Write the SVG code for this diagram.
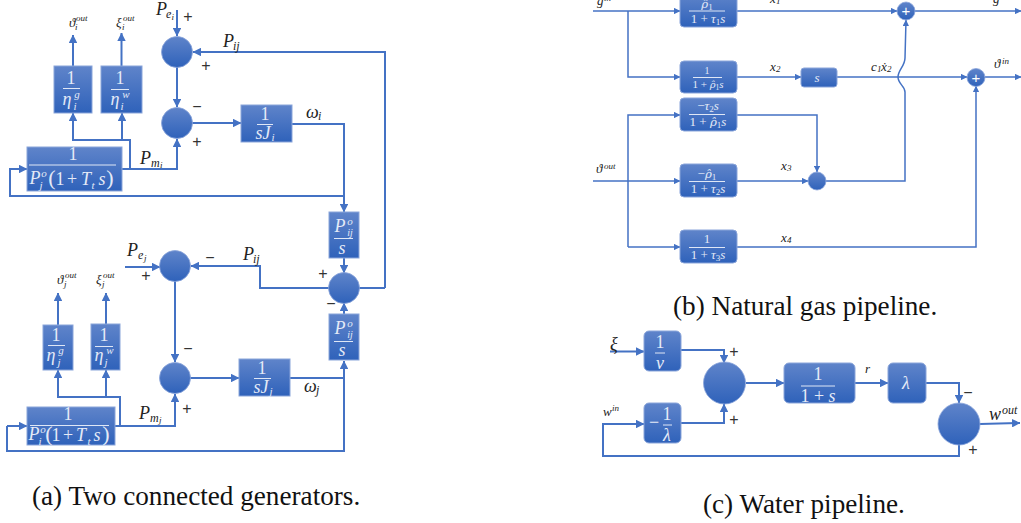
<svg xmlns="http://www.w3.org/2000/svg" width="1021" height="523" viewBox="0 0 1021 523">
<style>
.b{fill:url(#g);stroke:#8aa5da;stroke-width:1}
.c{fill:url(#g);stroke:#8aa5da;stroke-width:.8}
.l{fill:none;stroke:#4472c4;stroke-width:2;stroke-linejoin:miter}
.t{stroke-width:1.5}
.a{marker-end:url(#ah)}
.f{stroke:#dfe7f6;stroke-width:1;fill:none}
text{font-family:"Liberation Serif",serif}
.m{font-style:italic;fill:#222;font-size:18px}
.s{font-style:italic;fill:#222;font-size:12px}
.x{font-style:italic;fill:#222;font-size:13px}
.y{font-style:italic;fill:#222;font-size:9px}
.w{font-style:italic;fill:#e4eaf7;font-size:18px;text-anchor:middle}
.w2{font-style:italic;fill:#e4eaf7;font-size:11px;text-anchor:middle}
.n{font-style:normal}
.u{font-size:70%}
.r{font-family:"DejaVu Serif",serif;font-size:90%}
.p{font-family:"Liberation Sans",sans-serif;fill:#333;font-size:16px;text-anchor:middle}
.cap{fill:#111;font-size:27.2px}
.pw{font-family:"Liberation Sans",sans-serif;fill:#fff;font-size:15px;text-anchor:middle}
</style>
<defs>
<linearGradient id="g" x1="0" y1="0" x2="0" y2="1"><stop offset="0" stop-color="#5f84ca"/><stop offset="1" stop-color="#2f62ba"/></linearGradient>
<marker id="ah" viewBox="0 0 10 10" refX="9.500" refY="5" markerWidth="4.200" markerHeight="4.200" orient="auto"><path d="M0 0L10 5L0 10z" fill="#4472c4"/></marker>
</defs>

<g id="connectors">
<g id="conn-a">
<path class="l a" d="M177 10V36"/><path class="l a" d="M385 288V52H193"/><path class="l a" d="M177 67V107"/>
<path class="l a" d="M192 123H241"/><path class="l a" d="M292 124H344V212"/><path class="l a" d="M344 196H10V169H27"/>
<path class="l a" d="M122 169H177V139"/><path class="l a" d="M130 169V140H73V113"/><path class="l a" d="M122 140V113"/>
<path class="l a" d="M73 66V35"/><path class="l a" d="M121.500 66V33"/>
<path class="l a" d="M344 258V273"/><path class="l a" d="M344 314V303"/><path class="l" d="M359 288H385"/>
<path class="l a" d="M329 288H260V266H191"/><path class="l a" d="M125 267L160 267"/><path class="l a" d="M175 281V362"/>
<path class="l a" d="M190 378H239"/><path class="l" d="M290 378H344"/><path class="l a" d="M7 426H27"/><path class="l a" d="M7 426V451H344V361"/>
<path class="l a" d="M115 426H175V394"/><path class="l a" d="M120 426V397H58V370"/><path class="l a" d="M106 397V370"/>
<path class="l a" d="M58 325V293"/><path class="l a" d="M106 324V293"/>
</g>
<g id="conn-b">
<path class="l t a" d="M593 11H680"/><path class="l t a" d="M628 11V77H680"/><path class="l t a" d="M737 11H897"/><path class="l t a" d="M915 11H1021"/>
<path class="l t a" d="M737 77H801"/><path class="l t a" d="M837 77H967"/><path class="l t a" d="M985 77H1021"/>
<path class="l t a" d="M826 181H905V92C905 86 898 84 898 77C898 70 905 66 905 58L906 20"/>
<path class="l t a" d="M628 247V115H680"/><path class="l t a" d="M628 247H680"/><path class="l t a" d="M593 181H680"/>
<path class="l t a" d="M737 115H817V172"/><path class="l t a" d="M737 181H808"/><path class="l t a" d="M737 247H976V86"/>
</g>
<g id="conn-c">
<path class="l a" d="M610 351.500H644"/><path class="l a" d="M681 350H724V363"/><path class="l a" d="M681 423H724V404"/>
<path class="l a" d="M746 383H784"/><path class="l a" d="M855 383H888"/><path class="l a" d="M926 383H959V403"/>
<path class="l a" d="M980 424L1020 423"/><path class="l a" d="M959 445V456H603V424H644"/>
</g>
</g>

<g id="sum-ei"><circle class="c" cx="177" cy="52" r="15.500"/></g>
<g id="sum-mi"><circle class="c" cx="177" cy="123" r="15.500"/></g>
<g id="sum-ej"><circle class="c" cx="175" cy="266" r="15.500"/></g>
<g id="sum-mj"><circle class="c" cx="175" cy="378" r="15.500"/></g>
<g id="sum-ij"><circle class="c" cx="344" cy="288" r="15.500"/></g>

<g id="eta-g-i"><rect class="b" x="54" y="66" width="38" height="47"/><text class="w n" x="71" y="84">1</text><path class="f" d="M63 88.500H80"/><text class="w" x="67" y="105">η</text><text class="w2" x="77" y="98">g</text><text class="w2" x="75" y="110">i</text></g>
<g id="eta-w-i"><rect class="b" x="101" y="66" width="41" height="47"/><text class="w n" x="120" y="84">1</text><path class="f" d="M111 89.500H129"/><text class="w" x="115" y="105">η</text><text class="w2" x="126" y="98">w</text><text class="w2" x="122" y="110">i</text></g>
<g id="gov-i"><rect class="b" x="27" y="147" width="95" height="44"/><text class="w n" x="73" y="160">1</text><path class="f" d="M29 165H116"/><text class="w" x="35" y="184">P</text><text class="w2" x="44" y="177">o</text><text class="w2" x="41" y="189">j</text><text class="w n" x="52" y="185" style="font-size:22px">(</text><text class="w n" x="60" y="185">1</text><text class="w n" x="72" y="185">+</text><text class="w" x="86" y="185">T</text><text class="w2" x="93" y="189">t</text><text class="w" x="102" y="185">s</text><text class="w n" x="110" y="185" style="font-size:22px">)</text></g>
<g id="sj-i"><rect class="b" x="241" y="105" width="51" height="37"/><text class="w n" x="265" y="120">1</text><path class="f" d="M257 124.500H273"/><text class="w" x="263" y="139">sJ</text><text class="w2" x="273" y="141">i</text></g>
<g id="pij-top"><rect class="b" x="329" y="212" width="30" height="46"/><text class="w" x="340" y="232">P</text><text class="w2" x="350" y="225">o</text><text class="w2" x="350" y="236" style="font-size:10px">ij</text><path class="f" d="M334 238.500H353"/><text class="w" x="342" y="254">s</text></g>
<g id="pij-bot"><rect class="b" x="329" y="314" width="30" height="46"/><text class="w" x="340" y="334">P</text><text class="w2" x="350" y="327">o</text><text class="w2" x="350" y="338" style="font-size:10px">ij</text><path class="f" d="M334 341.500H353"/><text class="w" x="342" y="356">s</text></g>
<g id="eta-g-j"><rect class="b" x="43" y="325" width="30" height="45"/><text class="w n" x="56" y="341">1</text><path class="f" d="M48 345.500H65"/><text class="w" x="51" y="361">η</text><text class="w2" x="61" y="354">g</text><text class="w2" x="59" y="366">j</text></g>
<g id="eta-w-j"><rect class="b" x="91" y="324" width="29" height="46"/><text class="w n" x="104" y="341">1</text><path class="f" d="M95 346.500H113"/><text class="w" x="99" y="361">η</text><text class="w2" x="110" y="354">w</text><text class="w2" x="106" y="366">j</text></g>
<g id="gov-j"><rect class="b" x="27" y="407" width="88" height="38"/><text class="w n" x="68" y="420">1</text><path class="f" d="M30 425.500H109"/><text class="w" x="34" y="440">P</text><text class="w2" x="43" y="433">o</text><text class="w2" x="40" y="445">i</text><text class="w n" x="49" y="441" style="font-size:22px">(</text><text class="w n" x="56" y="441">1</text><text class="w n" x="68" y="441">+</text><text class="w" x="81" y="441">T</text><text class="w2" x="89" y="445">t</text><text class="w" x="97" y="441">s</text><text class="w n" x="106" y="441" style="font-size:22px">)</text></g>
<g id="sj-j"><rect class="b" x="239" y="359" width="51" height="37"/><text class="w n" x="262" y="374">1</text><path class="f" d="M254 378.500H271"/><text class="w" x="261" y="393">sJ</text><text class="w2" x="271" y="395">j</text></g>

<g id="labels-a">
<text class="m" x="156" y="15">P</text><text class="s" x="166" y="18">e</text><text class="y" x="171.500" y="20">i</text><text class="p" x="188" y="22">+</text>
<text class="m" x="223" y="47">P</text><text class="s" x="233" y="50">ij</text><text class="p" x="206" y="71">+</text>
<text class="x" x="69" y="27">ϑ</text><text class="y" x="76" y="21">out</text><text class="y" x="75" y="30">i</text>
<text class="x" x="116" y="27">ξ</text><text class="y" x="123" y="21">out</text><text class="y" x="122" y="30">i</text>
<text class="p" x="197" y="112">−</text><text class="p" x="197" y="147">+</text>
<text class="m" x="306" y="118">ω</text><text class="s" x="318" y="120">i</text>
<text class="m" x="140" y="164">P</text><text class="s" x="151" y="167">m</text><text class="y" x="160" y="168">i</text>
<text class="m" x="127" y="256">P</text><text class="s" x="138" y="259">e</text><text class="y" x="144" y="261">j</text><text class="p" x="146" y="281">+</text>
<text class="x" x="57" y="284">ϑ</text><text class="y" x="65" y="278">out</text><text class="y" x="64" y="287">j</text>
<text class="x" x="96" y="284">ξ</text><text class="y" x="103" y="278">out</text><text class="y" x="102" y="287">j</text>
<text class="p" x="210" y="263">−</text><text class="m" x="243" y="260">P</text><text class="s" x="253" y="263">ij</text>
<text class="p" x="323" y="279">+</text><text class="p" x="331" y="309">−</text><text class="p" x="188" y="354">−</text><text class="p" x="187" y="414">+</text>
<text class="m" x="304" y="392">ω</text><text class="s" x="316" y="394">j</text>
<text class="m" x="139" y="419">P</text><text class="s" x="150" y="422">m</text><text class="y" x="159" y="423">j</text>
</g>

<g id="box1"><rect class="b" x="680" y="-6" width="57" height="33" rx="4"/><text class="w" x="707" y="8" style="font-size:13px"><tspan class="r">ρ̂</tspan><tspan class="n u" dy="2">1</tspan></text><path class="f" d="M689 11H725"/><text class="w" x="708" y="23" style="font-size:13px"><tspan class="n">1 + </tspan>τ<tspan class="n u" dy="2">1</tspan><tspan dy="-2">s</tspan></text></g>
<g id="box2"><rect class="b" x="680" y="61" width="57" height="32" rx="4"/><text class="w n" x="707" y="74" style="font-size:10px">1</text><path class="f" d="M693 77.500H722"/><text class="w" x="708" y="88" style="font-size:11px"><tspan class="n">1 + </tspan><tspan class="r">ρ̂</tspan><tspan class="n u" dy="2">1</tspan><tspan dy="-2">s</tspan></text></g>
<g id="box3"><rect class="b" x="680" y="98" width="57" height="33" rx="4"/><text class="w" x="708" y="110" style="font-size:13px"><tspan class="n">−</tspan>τ<tspan class="n u" dy="2">2</tspan><tspan dy="-2">s</tspan></text><path class="f" d="M689 114.500H725"/><text class="w" x="708" y="126" style="font-size:13px"><tspan class="n">1 + </tspan><tspan class="r">ρ̂</tspan><tspan class="n u" dy="2">1</tspan><tspan dy="-2">s</tspan></text></g>
<g id="box4"><rect class="b" x="680" y="164" width="57" height="33" rx="4"/><text class="w" x="707" y="178" style="font-size:13px"><tspan class="n">−</tspan><tspan class="r">ρ̂</tspan><tspan class="n u" dy="2">1</tspan></text><path class="f" d="M689 181.500H725"/><text class="w" x="708" y="193" style="font-size:13px"><tspan class="n">1 + </tspan>τ<tspan class="n u" dy="2">2</tspan><tspan dy="-2">s</tspan></text></g>
<g id="box5"><rect class="b" x="680" y="230" width="57" height="33" rx="4"/><text class="w n" x="707" y="243" style="font-size:13px">1</text><path class="f" d="M689 247.500H725"/><text class="w" x="708" y="259" style="font-size:13px"><tspan class="n">1 + </tspan>τ<tspan class="n u" dy="2">3</tspan><tspan dy="-2">s</tspan></text></g>
<g id="box-s"><rect class="b" x="801" y="68" width="36" height="19" rx="3"/><text class="w" x="817" y="82" style="font-size:13px">s</text></g>
<g id="plus1"><circle class="c" cx="906" cy="11" r="9"/><text class="pw" x="906" y="16">+</text></g>
<g id="plus2"><circle class="c" cx="976" cy="77.500" r="9"/><text class="pw" x="976" y="83">+</text></g>
<g id="dot"><circle class="c" cx="817" cy="181" r="9"/></g>

<g id="labels-b">
<text class="x" x="597" y="5">g</text><text class="y" x="604" y="1">in</text>
<text class="x" x="770" y="3">x</text><text class="y" x="776" y="4">1</text>
<text class="x" x="993" y="3">g</text>
<text class="x" x="770" y="71">x</text><text class="y" x="776" y="72">2</text>
<text class="x" x="871" y="71">c</text><text class="y" x="877" y="72">1</text><text class="x" x="881" y="71">ẋ</text><text class="y" x="887" y="72">2</text>
<text class="x" x="994" y="68">ϑ</text><text class="y" x="1002" y="64">in</text>
<text class="x" x="596" y="173">ϑ</text><text class="y" x="604" y="169">out</text>
<text class="x" x="781" y="170">x</text><text class="y" x="787" y="171">3</text>
<text class="x" x="781" y="242">x</text><text class="y" x="787" y="243">4</text>
</g>

<g id="nu"><rect class="b" x="644" y="331" width="37" height="40" rx="5"/><text class="w n" x="660" y="348">1</text><path class="f" d="M655 353H665"/><text class="w" x="660" y="369">ν</text></g>
<g id="lam"><rect class="b" x="644" y="403" width="37" height="40" rx="5"/><text class="w n" x="654" y="428">−</text><text class="w n" x="667" y="420">1</text><path class="f" d="M663 425H672"/><text class="w" x="667" y="441">λ</text></g>
<g id="sum-c1"><circle class="c" cx="724.500" cy="383" r="21"/></g>
<g id="lag"><rect class="b" x="784" y="363" width="71" height="40" rx="5"/><text class="w n" x="818" y="380">1</text><path class="f" d="M801 386H835"/><text class="w" x="818" y="402"><tspan class="n">1 + </tspan>s</text></g>
<g id="lam2"><rect class="b" x="888" y="363" width="38" height="40" rx="5"/><text class="w" x="906" y="389">λ</text></g>
<g id="sum-c2"><circle class="c" cx="959" cy="424" r="21"/></g>
<g id="labels-c">
<text class="m" x="610" y="350">ξ</text>
<text class="x" x="603" y="416">w</text><text class="y" x="612" y="411">in</text>
<text class="p" x="734" y="357">+</text><text class="p" x="734" y="425">+</text>
<text class="x" x="865" y="373">r</text>
<text class="p" x="968" y="398">−</text><text class="p" x="973" y="455">+</text>
<text class="m" x="989" y="420">w</text><text class="s" x="1002" y="414">out</text>
</g>

<g id="captions">
<text class="cap" x="32" y="505">(a) Two connected generators.</text>
<text class="cap" x="673" y="315">(b) Natural gas pipeline.</text>
<text class="cap" x="703" y="513">(c) Water pipeline.</text>
</g>
</svg>
